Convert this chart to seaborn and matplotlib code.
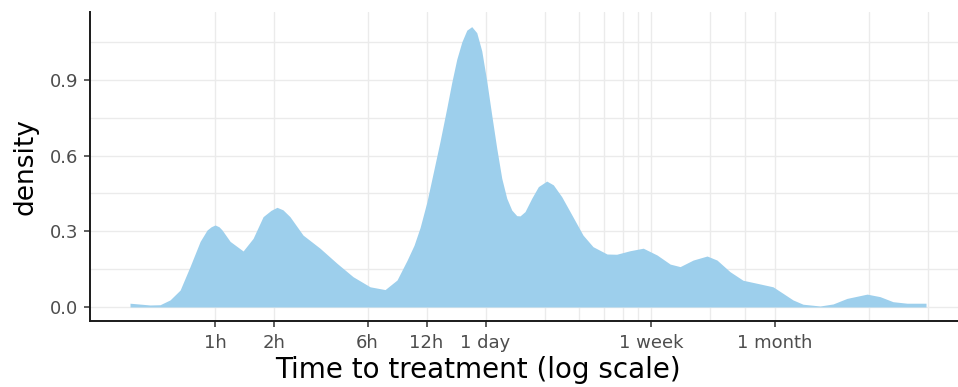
import numpy as np
import pandas as pd
import matplotlib
matplotlib.use('Agg')
import matplotlib.pyplot as plt
import matplotlib.ticker as mticker
import seaborn as sns

# density curve (time in hours, density on log10 scale)
hours = [0.368, 0.466, 0.524, 0.589, 0.663, 0.745, 0.839, 0.91, 0.955, 1.0,
         1.047, 1.086, 1.193, 1.39, 1.563, 1.758, 1.93, 2.07, 2.22, 2.41,
         2.81, 3.43, 4.19, 5.06, 6.18, 7.37, 8.48, 9.54, 10.36, 11.12, 12.03,
         13.0, 14.06, 15.21, 16.13, 17.11, 18.15, 19.25, 20.40, 21.64, 22.95,
         24.34, 25.80, 27.37, 29.03, 30.78, 32.65, 34.62, 35.98, 38.15, 41.29,
         44.62, 49.24, 53.21, 58.73, 64.73, 75.4, 84.8, 100, 112, 131,
         153, 180, 210, 236, 275, 324, 364, 424, 494, 582,
         703, 791, 889, 1000, 1222, 1423, 1676, 2122, 2472, 2878,
         3394, 4243]
density = [0.015, 0.008, 0.009, 0.028, 0.067, 0.16, 0.26, 0.305, 0.318, 0.325,
           0.318, 0.305, 0.26, 0.222, 0.272, 0.358, 0.383, 0.395, 0.385, 0.358,
           0.285, 0.233, 0.173, 0.12, 0.08, 0.069, 0.107, 0.185, 0.245, 0.315, 0.415,
           0.535, 0.657, 0.788, 0.89, 0.982, 1.05, 1.097, 1.111, 1.087, 1.015,
           0.895, 0.761, 0.629, 0.51, 0.431, 0.384, 0.362, 0.361, 0.378, 0.431,
           0.477, 0.499, 0.484, 0.437, 0.378, 0.285, 0.239, 0.21, 0.209, 0.223,
           0.233, 0.206, 0.17, 0.16, 0.186, 0.202, 0.186, 0.14, 0.106, 0.094,
           0.08, 0.054, 0.028, 0.011, 0.004, 0.012, 0.034, 0.051, 0.041, 0.021,
           0.015, 0.015]

tick_hours = [1, 2, 6, 12, 24, 168, 720]
tick_labels = ['1h', '2h', '6h', '12h', '1 day', '1 week', '1 month']
extra_grid_hours = [48, 72, 96, 120, 144, 336, 504, 2160, 4320]
y_ticks = [0.0, 0.3, 0.6, 0.9]
y_minor = [0.15, 0.45, 0.75, 1.05]

df = pd.DataFrame({'hours': hours, 'density': density})

sns.set_theme(style='whitegrid')
plt.rcParams['font.family'] = ['DejaVu Sans']

fig = plt.figure(figsize=(9.58, 3.87), dpi=100)
ax = fig.add_axes([90 / 958, 66 / 387, 868 / 958, 309 / 387])

ax.fill_between(df['hours'], 0, df['density'], color='#9dcfec', linewidth=0, zorder=2)
sns.lineplot(data=df, x='hours', y='density', ax=ax, color='#9dcfec', linewidth=0, zorder=2)

ax.set_xscale('log')
ax.set_xlim(0.230, 6178)
ax.set_ylim(-0.0555, 1.169)

ax.set_xticks(tick_hours)
ax.set_xticklabels(tick_labels)
ax.set_xticks(extra_grid_hours, minor=True)
ax.xaxis.set_minor_formatter(mticker.NullFormatter())
ax.set_yticks(y_ticks)
ax.set_yticklabels([f'{v:.1f}' for v in y_ticks])
ax.set_yticks(y_minor, minor=True)
ax.yaxis.set_minor_formatter(mticker.NullFormatter())

ax.grid(True, which='both', color='#ebebeb', linewidth=1.0, zorder=0)
ax.set_axisbelow(True)

ax.tick_params(axis='both', which='major', length=4.5, width=1.1, color='#333333',
               labelcolor='#4d4d4d', labelsize=13, direction='out')
ax.tick_params(axis='x', which='major', pad=5)
ax.tick_params(axis='y', which='major', pad=4)
ax.tick_params(axis='both', which='minor', length=0)
ax.xaxis.set_ticks_position('bottom')
ax.yaxis.set_ticks_position('left')

for side in ['top', 'right']:
    ax.spines[side].set_visible(False)
for side in ['left', 'bottom']:
    ax.spines[side].set_visible(True)
    ax.spines[side].set_color('#1a1a1a')
    ax.spines[side].set_linewidth(1.4)

ax.set_xlabel('Time to treatment (log scale)', fontsize=20, color='black')
ax.xaxis.set_label_coords(0.447, -0.112)
ax.set_ylabel('density', fontsize=19, color='black', labelpad=8)
ax.set_facecolor('white')

fig.savefig('out.png', dpi=100)
